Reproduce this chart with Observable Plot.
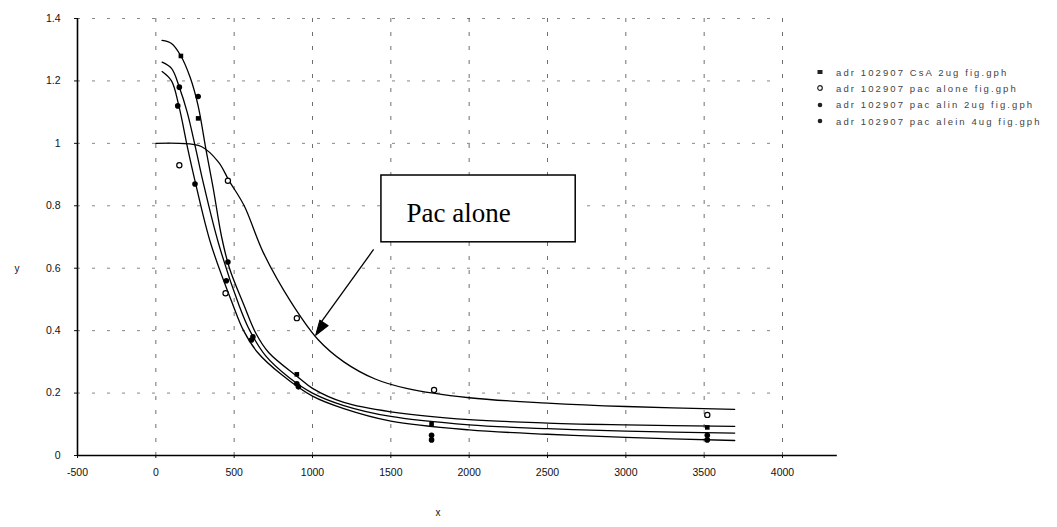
<!DOCTYPE html>
<html>
<head>
<meta charset="utf-8">
<script src="https://cdn.jsdelivr.net/npm/d3@7"></script>
<script src="https://cdn.jsdelivr.net/npm/@observablehq/plot@0.6"></script>
<style>
  body { margin: 0; background: #fff; }
  #wrap { position: relative; width: 1057px; height: 527px; }
  #legend { position: absolute; left: 816px; top: 64px; font-family: "Liberation Sans", Arial, sans-serif; font-size: 9.5px; letter-spacing: 2.1px; color: #444; }
  #legend div { height: 16.3px; display: flex; align-items: center; white-space: nowrap; }
  #legend svg { margin-right: 12px; }
</style>
</head>
<body>
<div id="wrap">
  <div id="chart"></div>
  <div id="legend"></div>
</div>
<script>
// ---- data ----
const xTicks = [-500, 0, 500, 1000, 1500, 2000, 2500, 3000, 3500, 4000];
const yTicks = [0, 0.2, 0.4, 0.6, 0.8, 1, 1.2, 1.4];

const seriesNames = [
  "adr 102907 CsA 2ug fig.gph",
  "adr 102907 pac alone fig.gph",
  "adr 102907 pac alin 2ug fig.gph",
  "adr 102907 pac alein 4ug fig.gph"
];

// fitted curves (x, y) as traced in the picture
const csaCurve = [[40,1.33],[100,1.32],[160,1.28],[220,1.21],[270,1.12],[320,0.98],[365,0.86],[420,0.70],[470,0.60],[564,0.48],[640,0.39],[720,0.33],[910,0.25],[1000,0.215],[1200,0.17],[1500,0.14],[2000,0.115],[2500,0.104],[3000,0.098],[3695,0.093]];
const pacAloneCurve = [[0,1.0],[150,1.0],[290,0.99],[400,0.94],[468,0.88],[564,0.80],[686,0.65],[865,0.49],[1038,0.37],[1200,0.30],[1400,0.245],[1600,0.215],[2000,0.185],[2500,0.168],[3000,0.157],[3695,0.148]];
const pac2Curve = [[40,1.26],[100,1.24],[150,1.18],[200,1.10],[256,0.98],[300,0.88],[400,0.68],[532,0.48],[600,0.40],[700,0.32],[850,0.25],[1000,0.20],[1200,0.16],[1500,0.125],[2000,0.098],[2500,0.086],[3000,0.078],[3695,0.072]];
const pac4Curve = [[40,1.23],[100,1.20],[147,1.12],[205,0.98],[250,0.88],[350,0.68],[494,0.48],[560,0.40],[650,0.33],[800,0.26],[1000,0.19],[1200,0.15],[1500,0.11],[2000,0.082],[2500,0.068],[3000,0.058],[3695,0.048]];

// measured points
const csaPoints = [[160,1.28],[270,1.08],[900,0.26],[1760,0.10],[3520,0.09]];
const pacAlonePoints = [[150,0.93],[460,0.88],[445,0.52],[900,0.44],[1776,0.21],[3520,0.13]];
const pac2Points = [[150,1.18],[270,1.15],[460,0.62],[620,0.38],[900,0.23],[1760,0.065],[3520,0.065]];
const pac4Points = [[140,1.12],[250,0.87],[450,0.56],[610,0.37],[910,0.22],[1760,0.05],[3520,0.05]];

// annotation
const noteText = "Pac alone";
const noteBox = [{x1: 1440, x2: 2680, y1: 0.683, y2: 0.897}];
const noteLabel = [{x: 1600, y: 0.775}];
const noteArrow = [{x1: 1390, y1: 0.66, x2: 1045, y2: 0.42}];
const noteHead = [{x: 1020, y: 0.385}];

// ---- build ----
const curves = [csaCurve, pacAloneCurve, pac2Curve, pac4Curve];
const lineData = curves.flatMap((c, i) => c.map(([x, y]) => ({name: seriesNames[i], x, y})));
const toObj = arr => arr.map(([x, y]) => ({x, y}));

const headShape = {
  draw(context, l) {
    context.moveTo(0, -l);
    context.lineTo(-5, 0);
    context.lineTo(5, 0);
    context.closePath();
  }
};

const chart = Plot.plot({
  width: 1057,
  height: 527,
  marginLeft: 77,
  marginRight: 275,
  marginTop: 18,
  marginBottom: 72,
  style: {fontFamily: "Liberation Sans, Arial, sans-serif", fontSize: "10.5px", color: "#111", background: "white"},
  x: {domain: [-500, 4000], ticks: xTicks, tickSize: 3, tickPadding: 10, tickFormat: d => String(d), label: null},
  y: {domain: [0, 1.4], ticks: yTicks, tickSize: 3, tickPadding: 14, tickFormat: d => String(+d.toFixed(1)), label: null},
  marks: [
    Plot.gridX(xTicks.filter(d => d > -500), {stroke: "#222", strokeOpacity: 0.65, strokeDasharray: "4,10"}),
    Plot.gridY(yTicks.filter(d => d > 0), {stroke: "#222", strokeOpacity: 0.55, strokeDasharray: "3,12"}),
    Plot.ruleX([-500], {y1: 0, y2: 1.4, stroke: "black", strokeWidth: 1.6}),
    Plot.ruleY([0], {x1: -500, x2: 4350, stroke: "black", strokeWidth: 1.6}),
    Plot.line(lineData, {x: "x", y: "y", z: "name", curve: "catmull-rom", stroke: "black", strokeWidth: 1.3}),
    Plot.dot(toObj(csaPoints), {x: "x", y: "y", symbol: "square", r: 2.6, fill: "black"}),
    Plot.dot(toObj(pacAlonePoints), {x: "x", y: "y", r: 2.6, fill: "white", stroke: "black", strokeWidth: 1.2}),
    Plot.dot(toObj(pac2Points), {x: "x", y: "y", r: 2.8, fill: "black"}),
    Plot.dot(toObj(pac4Points), {x: "x", y: "y", r: 2.8, fill: "black"}),
    Plot.rect(noteBox, {x1: "x1", x2: "x2", y1: "y1", y2: "y2", fill: "white", stroke: "black", strokeWidth: 1.5}),
    Plot.text(noteLabel, {x: "x", y: "y", text: () => noteText, textAnchor: "start", fontFamily: "Liberation Serif, Times New Roman, serif", fontSize: 27, fill: "black"}),
    Plot.link(noteArrow, {x1: "x1", y1: "y1", x2: "x2", y2: "y2", stroke: "black", strokeWidth: 1.3}),
    Plot.vector(noteHead, {x: "x", y: "y", anchor: "end", length: 15, rotate: 214, shape: headShape, fill: "black", stroke: "black", strokeWidth: 1})
  ]
});
document.getElementById("chart").appendChild(chart);

// axis titles
const svg = d3.select(chart);
svg.append("text").attr("x", 17).attr("y", 272).attr("font-size", 10).attr("fill", "#111").text("y");
svg.append("text").attr("x", 438).attr("y", 516).attr("font-size", 10).attr("fill", "#111").text("x");

// legend
const markers = ["square", "open", "dot", "dot"];
const legend = d3.select("#legend");
seriesNames.forEach((name, i) => {
  const row = legend.append("div");
  const s = row.append("svg").attr("width", 8).attr("height", 8);
  if (markers[i] === "square") s.append("rect").attr("x", 1.5).attr("y", 2).attr("width", 5).attr("height", 4).attr("fill", "#222");
  else if (markers[i] === "open") s.append("circle").attr("cx", 4).attr("cy", 4).attr("r", 2.3).attr("fill", "white").attr("stroke", "#222").attr("stroke-width", 1.2);
  else s.append("circle").attr("cx", 4).attr("cy", 4).attr("r", 2.3).attr("fill", "#222");
  row.append("span").text(name);
});
</script>
</body>
</html>
